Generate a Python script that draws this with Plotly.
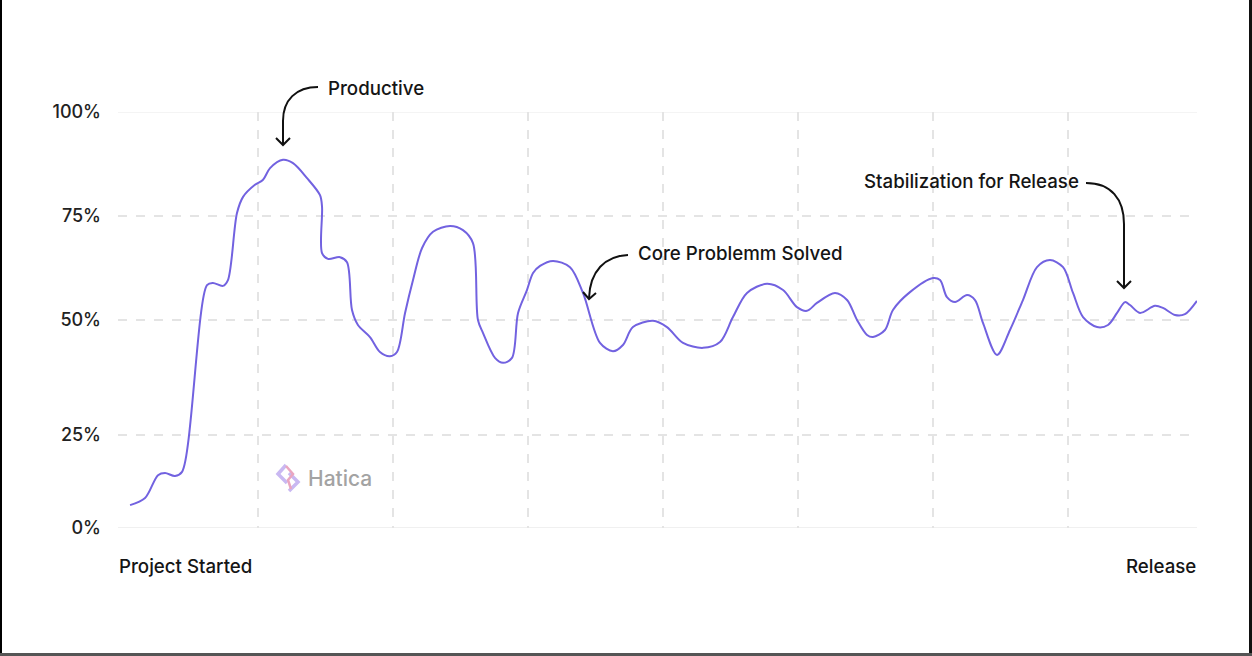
import plotly.graph_objects as go

# ---- data (x in sprint units, y in percent) ----
x_vals = [0.056, 0.167, 0.263, 0.315, 0.389, 0.441, 0.626, 0.670, 0.744, 0.781,
          0.848, 0.893, 0.981, 1.041, 1.093, 1.189, 1.263, 1.367, 1.463, 1.478,
          1.478, 1.522, 1.611, 1.663, 1.700, 1.744, 1.833, 1.907, 1.981, 2.033,
          2.093, 2.152, 2.219, 2.300, 2.426, 2.522, 2.596, 2.633, 2.670, 2.759,
          2.819, 2.885, 2.930, 2.996, 3.041, 3.093, 3.189, 3.315, 3.411, 3.537,
          3.633, 3.707, 3.781, 3.930, 4.033, 4.152, 4.300, 4.426, 4.522, 4.626,
          4.774, 4.893, 4.996, 5.070, 5.144, 5.278, 5.367, 5.441, 5.515, 5.559,
          5.648, 5.707, 5.833, 6.004, 6.056, 6.107, 6.167, 6.256, 6.315, 6.374,
          6.478, 6.574, 6.670, 6.774, 6.870, 6.967, 7.041, 7.115, 7.219, 7.300,
          7.367, 7.426, 7.463, 7.537, 7.648, 7.707, 7.796, 7.870, 7.959]
y_vals = [5.5, 7.2, 12.7, 13.2, 12.5, 13.5, 58.4, 58.9, 58.2, 59.6,
          75.7, 79.6, 82.5, 83.7, 86.5, 88.5, 87.7, 84.1, 80.0, 77.2,
          66.1, 64.7, 65.1, 63.9, 52.4, 48.8, 45.9, 42.3, 41.3, 42.3,
          51.7, 59.6, 67.3, 71.2, 72.6, 71.6, 68.5, 50.0, 46.9, 40.9,
          39.7, 40.9, 51.7, 57.2, 61.3, 63.0, 64.2, 62.7, 56.5, 44.5,
          42.5, 44.0, 48.3, 49.8, 48.3, 44.5, 43.3, 44.7, 50.7, 56.5,
          58.7, 57.2, 53.1, 52.2, 54.1, 56.5, 54.8, 50.0, 46.4, 45.9,
          47.6, 52.4, 56.7, 60.1, 59.6, 55.5, 54.3, 56.0, 54.8, 49.3,
          41.6, 47.6, 54.8, 62.7, 64.4, 62.7, 56.5, 50.7, 48.3, 48.8,
          51.7, 54.3, 53.6, 51.7, 53.4, 52.9, 51.2, 51.4, 54.6]

y_tick_vals = [0, 22.4, 50, 75, 100]
y_tick_text = ["0%", "25%", "50%", "75%", "100%"]
x_grid_vals = [1, 2, 3, 4, 5, 6, 7]
x_start_label = "Project Started"
x_end_label = "Release"
notes = ["Productive", "Core Problemm Solved", "Stabilization for Release"]

W, H = 1252, 656
L, R, T, B = 118, 55, 112, 128
PW, PH = W - L - R, H - T - B


def px(x):
    return (x - L) / PW


def py(y):
    return (H - B - y) / PH


def path(cmds):
    out = []
    for c in cmds:
        if isinstance(c, str):
            out.append(c)
        else:
            out.append(f"{px(c[0]):.5f},{py(c[1]):.5f}")
    return " ".join(out)


FONT = "Inter, 'Noto Sans', sans-serif"

fig = go.Figure()
fig.add_trace(go.Scatter(
    x=x_vals, y=y_vals, mode="lines",
    line=dict(color="#7262e0", width=2, shape="spline", smoothing=0.9),
    hoverinfo="skip", showlegend=False,
))

shapes = []
# solid top and bottom grid lines
for yv, col in [(100, "#f0f0f0"), (0, "#ebebeb")]:
    shapes.append(dict(type="line", xref="paper", yref="y", x0=0, x1=1, y0=yv, y1=yv,
                       line=dict(color=col, width=1.5), layer="below"))

arrow = dict(color="#111111", width=2)
# Productive arrow
shapes.append(dict(type="path", xref="paper", yref="paper", line=arrow,
                   path=path(["M", (318, 87), "C", (296, 87), (283, 100), (283, 121), "L", (283, 145)])))
shapes.append(dict(type="path", xref="paper", yref="paper", line=arrow,
                   path=path(["M", (276, 138), "L", (283, 145), "L", (290, 138)])))
# Core problem arrow
shapes.append(dict(type="path", xref="paper", yref="paper", line=arrow,
                   path=path(["M", (628, 255), "C", (605, 256), (590, 271), (589, 298)])))
shapes.append(dict(type="path", xref="paper", yref="paper", line=arrow,
                   path=path(["M", (583, 292), "L", (589, 299), "L", (596, 293)])))
# Stabilization arrow
shapes.append(dict(type="path", xref="paper", yref="paper", line=arrow,
                   path=path(["M", (1086, 183), "C", (1111, 183), (1124, 199), (1124, 224), "L", (1124, 287)])))
shapes.append(dict(type="path", xref="paper", yref="paper", line=arrow,
                   path=path(["M", (1117, 281), "L", (1124, 288), "L", (1131, 281)])))

# Hatica logo mark
shapes.append(dict(type="path", xref="paper", yref="paper", layer="below",
                   line=dict(color="#c9b8f2", width=3.5),
                   path=path(["M", (286, 465), "L", (278, 474), "L", (287, 483)])))
shapes.append(dict(type="path", xref="paper", yref="paper", layer="below",
                   line=dict(color="#c9b8f2", width=3.5),
                   path=path(["M", (289, 473), "L", (298, 482), "L", (289, 491)])))
shapes.append(dict(type="path", xref="paper", yref="paper", layer="below",
                   line=dict(color="#eaa6c0", width=2.5),
                   path=path(["M", (286, 466), "L", (293, 474), "L", (288, 480), "L", (291, 489)])))

# frame edges
shapes.append(dict(type="rect", xref="paper", yref="paper", x0=px(0), x1=px(2), y0=py(H), y1=py(0),
                   line=dict(width=0), fillcolor="#000000"))
shapes.append(dict(type="rect", xref="paper", yref="paper", x0=px(1249), x1=px(1252), y0=py(H), y1=py(0),
                   line=dict(width=0), fillcolor="#111111"))
shapes.append(dict(type="rect", xref="paper", yref="paper", x0=px(0), x1=px(1252), y0=py(656), y1=py(653),
                   line=dict(width=0), fillcolor="#555555"))

annotations = [
    dict(text=notes[0], x=px(326), y=py(88), xanchor="left", yanchor="middle"),
    dict(text=notes[1], x=px(636), y=py(253), xanchor="left", yanchor="middle"),
    dict(text=notes[2], x=px(862), y=py(181), xanchor="left", yanchor="middle"),
    dict(text=x_start_label, x=px(117), y=py(566), xanchor="left", yanchor="middle"),
    dict(text=x_end_label, x=px(1198), y=py(566), xanchor="right", yanchor="middle"),
]
for a in annotations:
    a.update(xref="paper", yref="paper", showarrow=False,
             font=dict(family=FONT, size=18.7, color="#151515", weight=500))
annotations.append(dict(text="Hatica", x=px(306), y=py(478), xref="paper", yref="paper",
                        xanchor="left", yanchor="middle", showarrow=False,
                        font=dict(family=FONT, size=21, color="#a3a3a3", weight=500)))

fig.update_layout(
    width=W, height=H,
    margin=dict(l=L, r=R, t=T, b=B),
    paper_bgcolor="white", plot_bgcolor="white",
    shapes=shapes, annotations=annotations,
    xaxis=dict(range=[(118 - 122.5) / 135, (1197 - 122.5) / 135],
               tickvals=x_grid_vals, showticklabels=False, ticks="",
               showgrid=True, gridcolor="#e4e4e4", griddash="dash", gridwidth=1.5,
               zeroline=False, showline=False, fixedrange=True),
    yaxis=dict(range=[0, 100], tickvals=y_tick_vals, ticktext=y_tick_text,
               ticks="", ticklabelstandoff=16,
               tickfont=dict(family=FONT, size=18, color="#222222", weight=500),
               showgrid=True, gridcolor="#e4e4e4", griddash="dash", gridwidth=1.5,
               zeroline=False, showline=False, fixedrange=True),
    showlegend=False,
)

fig.write_html("out.html", config={"displayModeBar": False},
               post_script="document.body.style.margin='0';document.body.style.overflow='hidden';")
